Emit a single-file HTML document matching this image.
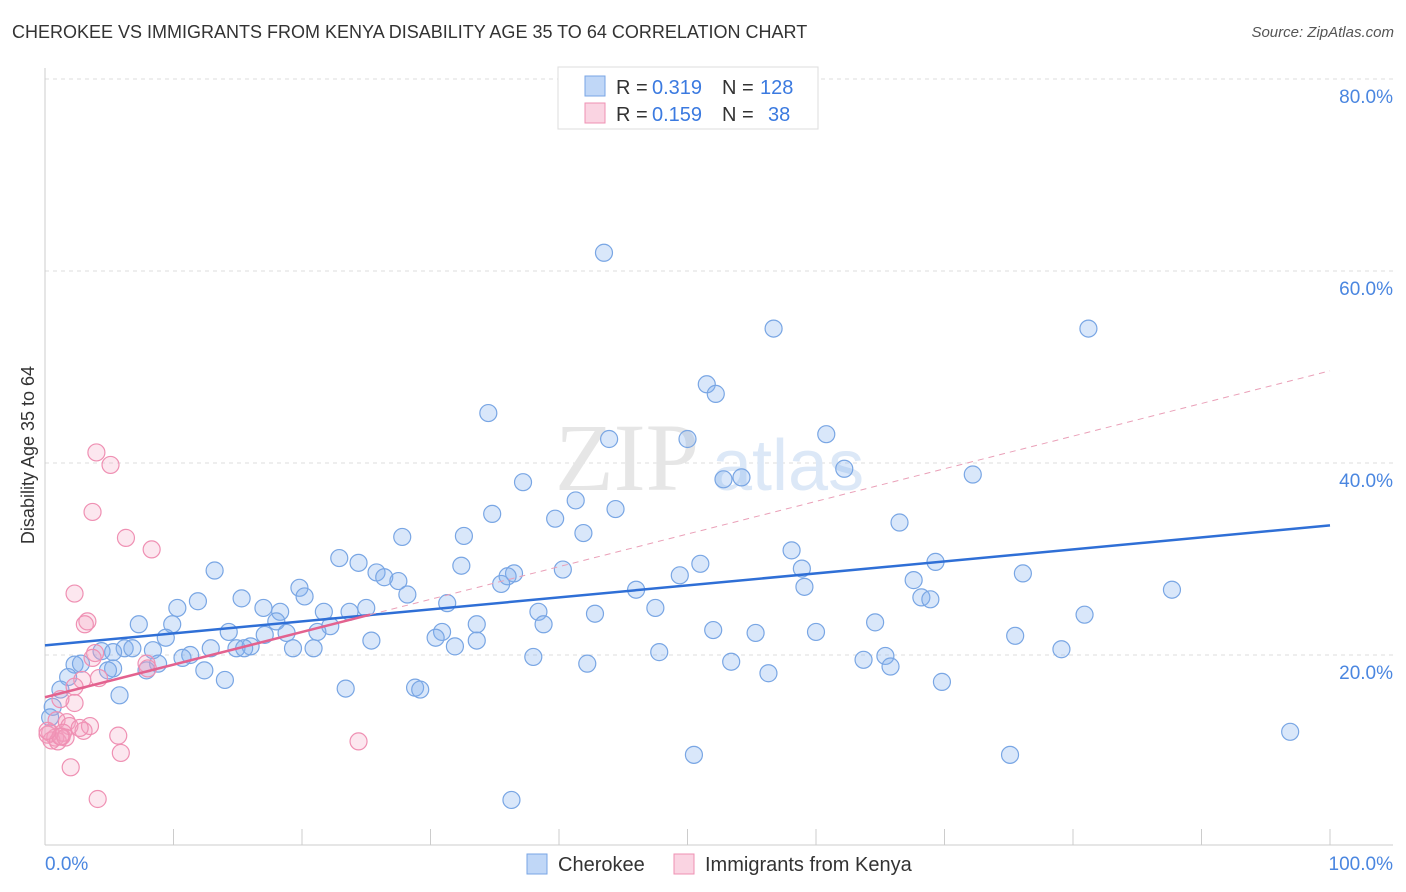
<!DOCTYPE html>
<html><head><meta charset="utf-8"><style>
body{margin:0;background:#fff;font-family:"Liberation Sans",sans-serif;}
#wrap{position:relative;width:1406px;height:892px;overflow:hidden}
.t{position:absolute;white-space:nowrap}
</style></head><body>
<div id="wrap">
<div class="t" style="left:12px;top:22px;font-size:18px;color:#333">CHEROKEE VS IMMIGRANTS FROM KENYA DISABILITY AGE 35 TO 64 CORRELATION CHART</div>
<div class="t" style="right:12px;top:24px;font-size:15px;color:#555;font-style:italic">Source: ZipAtlas.com</div>
<svg id="svg" width="1406" height="892" style="position:absolute;left:0;top:0"></svg>
</div>
<script>
const bx=[43.5,56.7,81.2,51.5,52.2,34.5,43.9,50.0,60.8,62.2,52.8,54.2,72.2,37.2,41.3,44.4,39.7,34.8,66.5,27.8,32.6,41.9,58.1,22.9,24.4,51.0,32.4,13.2,25.8,26.4,27.5,36.5,36.0,40.3,49.4,58.9,69.3,76.1,67.6,19.8,20.2,28.2,35.5,46.0,59.1,87.7,15.3,11.9,68.2,68.9,10.3,17.0,31.3,47.5,18.3,21.7,23.7,25.0,38.4,42.8,80.9,7.3,9.9,18.0,22.2,33.6,38.8,64.6,14.3,17.1,18.8,21.2,30.9,30.4,52.0,55.3,60.0,75.5,9.4,25.4,33.6,6.2,6.8,8.4,14.9,16.0,19.3,20.9,31.9,4.4,5.3,11.3,12.9,15.5,47.8,79.1,2.3,2.8,5.3,8.8,10.7,38.0,42.2,53.4,63.7,65.4,65.8,4.9,7.9,12.4,56.3,1.8,14.0,69.8,23.4,28.8,29.2,1.2,5.8,0.6,96.9,50.5,75.1,36.3,0.4];
const by=[61.9,54.0,54.0,48.2,47.2,45.2,42.5,42.5,43.0,39.4,38.3,38.5,38.8,38.0,36.1,35.2,34.2,34.7,33.8,32.3,32.4,32.7,30.9,30.1,29.6,29.5,29.3,28.8,28.6,28.1,27.7,28.5,28.2,28.9,28.3,29.0,29.7,28.5,27.8,27.0,26.1,26.3,27.4,26.8,27.1,26.8,25.9,25.6,26.0,25.8,24.9,24.9,25.4,24.9,24.5,24.5,24.5,24.9,24.5,24.3,24.2,23.2,23.2,23.5,23.0,23.2,23.2,23.4,22.4,22.1,22.3,22.4,22.4,21.8,22.6,22.3,22.4,22.0,21.8,21.5,21.5,20.7,20.7,20.5,20.7,20.9,20.7,20.7,20.9,20.4,20.3,20.0,20.7,20.7,20.3,20.6,19.0,19.1,18.6,19.1,19.7,19.8,19.1,19.3,19.5,19.9,18.8,18.4,18.4,18.4,18.1,17.7,17.4,17.2,16.5,16.6,16.4,16.4,15.8,14.6,12.0,9.6,9.6,4.9,13.5];
const px=[4.0,5.1,3.7,6.3,8.3,2.3,3.3,3.1,3.9,3.7,2.9,2.3,4.2,2.3,1.2,0.9,1.7,1.9,3.0,3.5,2.7,0.4,0.8,1.3,0.2,0.5,1.0,1.4,1.6,5.7,5.9,2.0,4.1,24.4,7.9,8.0,1.2,0.2];
const py=[41.1,39.8,34.9,32.2,31.0,26.4,23.5,23.2,20.2,19.7,17.4,16.7,17.6,15.0,15.4,13.2,13.0,12.6,12.1,12.6,12.4,11.9,11.4,11.5,11.7,11.1,11.0,11.9,11.4,11.6,9.8,8.3,5.0,11.0,19.1,18.6,11.5,12.1];
const yTicks=[20,40,60,80];
const xTickLabels=["0.0%","100.0%"];
const blueTrend=[21.0,33.5];
const pinkTrend=[15.6,49.6];
const pinkSolidEnd=25.3;

const X=v=>45+v*12.85, Y=v=>847-v*9.6;
const svg=document.getElementById('svg');const NS='http://www.w3.org/2000/svg';
function mk(tag,at,name,parent){const e=document.createElementNS(NS,tag);for(const k in at)e.setAttribute(k,at[k]);


(parent||svg).appendChild(e);return e;}
yTicks.forEach(t=>{
 const g=mk('line',{x1:45,x2:1393,y1:Y(t),y2:Y(t),stroke:'#ddd','stroke-dasharray':'4,4'},'gridline');
 const tx=mk('text',{x:1393,y:Y(t)+24,'text-anchor':'end','font-size':19,fill:'#4a86e0','font-family':'Liberation Sans'},'y-tick-label');
 tx.textContent=t.toFixed(1)+'%';
});
mk('line',{x1:45,x2:45,y1:68,y2:845,stroke:'#ccc'},'y-axis-line');
mk('line',{x1:45,x2:1393,y1:845,y2:845,stroke:'#ccc'},'x-axis-line');
for(let i=0;i<=10;i++){mk('line',{x1:X(i*10),x2:X(i*10),y1:829,y2:845,stroke:'#ccc'},'x-tick');}
const xl=mk('text',{x:45,y:870,'font-size':19,fill:'#4a86e0','font-family':'Liberation Sans'},'x-tick-label');xl.textContent=xTickLabels[0];
const xr=mk('text',{x:1393,y:870,'text-anchor':'end','font-size':19,fill:'#4a86e0','font-family':'Liberation Sans'},'x-tick-label');xr.textContent=xTickLabels[1];
const yt=mk('text',{x:34,y:455,'text-anchor':'middle','font-size':18,fill:'#333',transform:'rotate(-90 34 455)','font-family':'Liberation Sans'},'y-axis-title');yt.textContent='Disability Age 35 to 64';
const wm=mk('text',{x:555,y:490,'font-size':96,fill:'#e6e6e6','font-family':'Liberation Serif'},'watermark');wm.textContent='ZIP';
const wm2=mk('text',{x:712,y:490,'font-size':72,fill:'#dce8f7','font-family':'Liberation Sans'},'watermark');wm2.textContent='atlas';
bx.forEach((v,i)=>{mk('circle',{cx:X(v),cy:Y(by[i]),r:8.5,fill:'rgba(130,175,240,0.3)',stroke:'#79a6e4','stroke-width':1.2},'cherokee-point');});
px.forEach((v,i)=>{mk('circle',{cx:X(v),cy:Y(py[i]),r:8.5,fill:'rgba(245,160,190,0.25)',stroke:'#ef90b3','stroke-width':1.2},'kenya-point');});
mk('line',{x1:X(0),y1:Y(blueTrend[0]),x2:X(100),y2:Y(blueTrend[1]),stroke:'#2f6fd6','stroke-width':2.5},'cherokee-trend-line');
const pv=x=>pinkTrend[0]+(pinkTrend[1]-pinkTrend[0])*x/100;
mk('line',{x1:X(0),y1:Y(pv(0)),x2:X(pinkSolidEnd),y2:Y(pv(pinkSolidEnd)),stroke:'#e3628f','stroke-width':2.5},'kenya-trend-line');
mk('line',{x1:X(pinkSolidEnd),y1:Y(pv(pinkSolidEnd)),x2:X(100),y2:Y(pv(100)),stroke:'#eaa0b8','stroke-width':1,'stroke-dasharray':'6,5'},'kenya-trend-extension');
// legend
mk('rect',{x:558,y:67,width:260,height:62,fill:'#fff',stroke:'#ddd'},'legend');
mk('rect',{x:585,y:76,width:20,height:20,fill:'rgba(130,175,240,0.5)',stroke:'#79a6e4'},'legend-swatch-cherokee');
mk('rect',{x:585,y:103,width:20,height:20,fill:'rgba(245,160,190,0.45)',stroke:'#ef90b3'},'legend-swatch-kenya');
function lt(x,y,s,c,n){const t=mk('text',{x:x,y:y,'font-size':20,fill:c,'font-family':'Liberation Sans'},n);t.textContent=s;}
lt(616,94,'R =','#333','legend-r-label');lt(652,94,'0.319','#3b7ae0','legend-r-value');lt(722,94,'N =','#333','legend-n-label');lt(760,94,'128','#3b7ae0','legend-n-value');
lt(616,121,'R =','#333','legend-r-label');lt(652,121,'0.159','#3b7ae0','legend-r-value');lt(722,121,'N =','#333','legend-n-label');lt(768,121,'38','#3b7ae0','legend-n-value');
// bottom legend
mk('rect',{x:527,y:854,width:20,height:20,fill:'rgba(130,175,240,0.5)',stroke:'#79a6e4'},'bottom-legend-swatch-cherokee');
lt(558,871,'Cherokee','#333','bottom-legend-cherokee');
mk('rect',{x:674,y:854,width:20,height:20,fill:'rgba(245,160,190,0.45)',stroke:'#ef90b3'},'bottom-legend-swatch-kenya');
lt(705,871,'Immigrants from Kenya','#333','bottom-legend-kenya');
</script>
</body></html>
